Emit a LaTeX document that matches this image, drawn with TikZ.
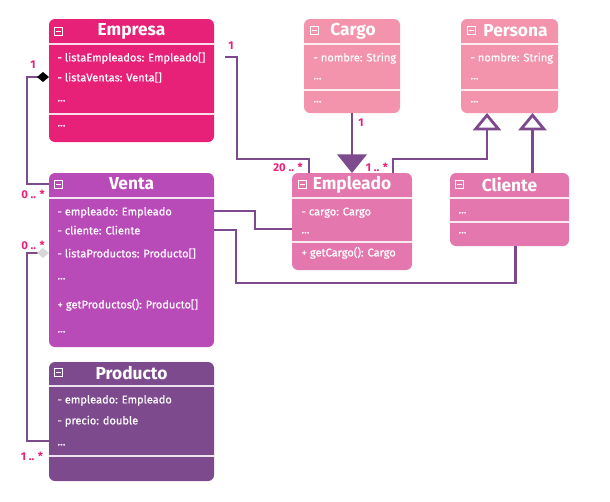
\documentclass[tikz,border=0pt]{standalone}
\usepackage{fontspec}
\setmainfont{Fira Sans}
\newfontfamily\attrfont{Fira Sans}[FakeBold=0.6]
\usetikzlibrary{arrows.meta,calc}

\definecolor{cEmpresa}{RGB}{231,32,120}
\definecolor{cLight}{RGB}{243,147,172}
\definecolor{cMid}{RGB}{228,120,174}
\definecolor{cVenta}{RGB}{185,75,185}
\definecolor{cProducto}{RGB}{125,74,141}
\definecolor{cLine}{RGB}{125,74,141}
\definecolor{cMult}{RGB}{236,30,120}
\definecolor{cGray}{RGB}{215,215,215}

\tikzset{every picture/.style={line width=0.75pt}}

\begin{document}
\begin{tikzpicture}[x=0.75pt,y=0.75pt,yscale=-1,xscale=1,
  classbox/.style={rectangle, rounded corners=4.5pt, anchor=north west, inner sep=0pt, outer sep=0pt},
  classname/.style={text=white, font=\bfseries\fontsize{13}{15}\selectfont, inner sep=0pt},
  attr/.style={anchor=west, text=white, font=\attrfont\fontsize{8.3}{10}\selectfont, inner sep=0pt, text height=1.5ex, text depth=.25ex},
  divider/.style={draw=white, line width=1.2pt, draw opacity=0.85},
  icon/.style={draw=white, line width=0.7pt, minimum width=6.5pt, minimum height=6pt, inner sep=0pt,
    path picture={\draw[white,line width=0.7pt] ([xshift=1.5pt]path picture bounding box.west) -- ([xshift=-1.5pt]path picture bounding box.east);}},
  conn/.style={draw=cLine, line width=2.1pt},
  mult/.style={text=cMult, font=\bfseries\fontsize{8.5}{10}\selectfont, inner sep=0pt}]
\useasboundingbox (0,0) rectangle (610,501);

%Shape: Class Empresa
\node[classbox, fill=cEmpresa, minimum width=165*0.75pt, minimum height=123*0.75pt] (empresa) at (49,19) {};
\node[icon] (empresaIcon) at ($(empresa.north west)+(9.5,12)$) {};
\node[classname] (empresaT) at ($(empresa.north)+(0,12)$) {Empresa};
\draw[divider] ($(empresa.north west)+(0,25)$) -- ($(empresa.north east)+(0,25)$);
\draw[divider] ($(empresa.north west)+(0,95)$) -- ($(empresa.north east)+(0,95)$);
\node[attr] (empresaEmp) at (57,57) {- listaEmpleados: Empleado[]};
\node[attr] (empresaVen) at (57,77) {- listaVentas: Venta[]};
\node[attr] (empresaDots) at (57,97) {...};
\node[attr] (empresaOps) at (57,122) {...};

%Shape: Class Cargo
\node[classbox, fill=cLight, minimum width=96*0.75pt, minimum height=94*0.75pt] (cargo) at (304,19) {};
\node[icon] (cargoIcon) at ($(cargo.north west)+(10.5,11)$) {};
\node[classname] (cargoT) at ($(cargo.north)+(1,12)$) {Cargo};
\draw[divider] ($(cargo.north west)+(0,25)$) -- ($(cargo.north east)+(0,25)$);
\draw[divider] ($(cargo.north west)+(0,71)$) -- ($(cargo.north east)+(0,71)$);
\node[attr] (cargoNom) at (313,57) {- nombre: String};
\node[attr] (cargoDots) at (313,75) {...};
\node[attr] (cargoOps) at (313,98) {...};

%Shape: Class Persona
\node[classbox, fill=cLight, minimum width=97*0.75pt, minimum height=94*0.75pt] (persona) at (461,19) {};
\node[icon] (personaIcon) at ($(persona.north west)+(10.5,11)$) {};
\node[classname] (personaT) at ($(persona.north)+(6,12)$) {Persona};
\draw[divider] ($(persona.north west)+(0,25)$) -- ($(persona.north east)+(0,25)$);
\draw[divider] ($(persona.north west)+(0,71)$) -- ($(persona.north east)+(0,71)$);
\node[attr] (personaNom) at (470,57) {- nombre: String};
\node[attr] (personaDots) at (470,75) {...};
\node[attr] (personaOps) at (470,98) {...};

%Shape: Class Empleado
\node[classbox, fill=cMid, minimum width=120*0.75pt, minimum height=97*0.75pt] (empleado) at (292,173) {};
\node[icon] (empleadoIcon) at ($(empleado.north west)+(10.5,11)$) {};
\node[classname] (empleadoT) at ($(empleado.north)+(0,12)$) {Empleado};
\draw[divider] ($(empleado.north west)+(0,25)$) -- ($(empleado.north east)+(0,25)$);
\draw[divider] ($(empleado.north west)+(0,69)$) -- ($(empleado.north east)+(0,69)$);
\node[attr] (empleadoCar) at (301,211) {- cargo: Cargo};
\node[attr] (empleadoDots) at (301,229) {...};
\node[attr] (empleadoOps) at (301,252) {+ getCargo(): Cargo};

%Shape: Class Cliente
\node[classbox, fill=cMid, minimum width=119*0.75pt, minimum height=73*0.75pt] (cliente) at (450,173) {};
\node[icon] (clienteIcon) at ($(cliente.north west)+(9.5,11)$) {};
\node[classname] (clienteT) at ($(cliente.north)+(0,12)$) {Cliente};
\draw[divider] ($(cliente.north west)+(0,25)$) -- ($(cliente.north east)+(0,25)$);
\draw[divider] ($(cliente.north west)+(0,49)$) -- ($(cliente.north east)+(0,49)$);
\node[attr] (clienteDots) at (458,209) {...};
\node[attr] (clienteOps) at (458,229) {...};

%Shape: Class Venta
\node[classbox, fill=cVenta, minimum width=165*0.75pt, minimum height=174*0.75pt] (venta) at (49,173) {};
\node[icon] (ventaIcon) at ($(venta.north west)+(9.5,11)$) {};
\node[classname] (ventaT) at ($(venta.north)+(0,11)$) {Venta};
\draw[divider] ($(venta.north west)+(0,25)$) -- ($(venta.north east)+(0,25)$);
\node[attr] (ventaEmp) at (57,211) {- empleado: Empleado};
\node[attr] (ventaCli) at (57,230) {- cliente: Cliente};
\node[attr] (ventaProd) at (57,253) {- listaProductos: Producto[]};
\node[attr] (ventaDots) at (57,275) {...};
\node[attr] (ventaOps) at (57,304) {+ getProductos(): Producto[]};
\node[attr] (ventaDots2) at (57,328) {...};

%Shape: Class Producto
\node[classbox, fill=cProducto, minimum width=165*0.75pt, minimum height=119*0.75pt] (producto) at (49,362) {};
\node[icon] (productoIcon) at ($(producto.north west)+(9.5,10)$) {};
\node[classname] (productoT) at ($(producto.north)+(0,11)$) {Producto};
\draw[divider] ($(producto.north west)+(0,24)$) -- ($(producto.north east)+(0,24)$);
\draw[divider] ($(producto.north west)+(0,94)$) -- ($(producto.north east)+(0,94)$);
\node[attr] (productoEmp) at (57,399) {- empleado: Empleado};
\node[attr] (productoPre) at (57,420) {- precio: double};
\node[attr] (productoDots) at (57,441) {...};

%Connectors
% Empresa <>-- Venta (composition)
\draw[conn, {Diamond[length=9pt,width=7.5pt,color=black]}-] (empresa.west |- empresaVen) -- ++(-22,0) |- (venta.west |- ventaT);
% Empresa -- Empleado
\draw[conn] ($(empresa.east |- empresaEmp)+(11,0)$) -| (237,159) -| ($(empleado.north west)+(17,0)$);
% Cargo -> Empleado
\draw[conn, -{Triangle[length=14pt,width=22pt]}] (cargo.south) -- (empleado.north);
% Empleado --|> Persona
\draw[conn, -{Triangle[length=13pt,width=21pt,fill=white]}] ($(empleado.north east)+(-19,0)$) -- ++(0,-14) -| ($(persona.south west)+(26,0)$);
% Cliente --|> Persona
\draw[conn, -{Triangle[length=13pt,width=21pt,fill=white]}] ($(cliente.north)+(23,0)$) -- ($(persona.south)+(23,0)$);
% Venta -- Empleado
\draw[conn] (venta.east |- ventaEmp) -- ++(41,0) |- (empleado.west |- empleadoDots);
% Venta -- Cliente
\draw[conn] (venta.east |- ventaCli) -- ++(22,0) -- ++(0,53) -| ($(cliente.south)+(6,0)$);
% Venta <>-- Producto (aggregation)
\draw[conn, {Diamond[length=9pt,width=7.5pt,color=cGray]}-] (venta.west |- ventaProd) -- ++(-22,0) |- (producto.west |- productoDots);

% Multiplicities
\node[mult] (mEmpresaVen) at (33,65) {1};
\node[mult] (mVenta) at (33,194) {0 .. *};
\node[mult] (mVentaProd) at (33,245) {0 .. *};
\node[mult] (mProducto) at (32,456) {1 .. *};
\node[mult] (mEmpresaEmp) at (231,46) {1};
\node[mult] (mEmpleadoEmp) at (288,167) {20 .. *};
\node[mult] (mCargo) at (361,123) {1};
\node[mult] (mEmpleadoPer) at (377,167) {1 .. *};

\end{tikzpicture}
\end{document}
